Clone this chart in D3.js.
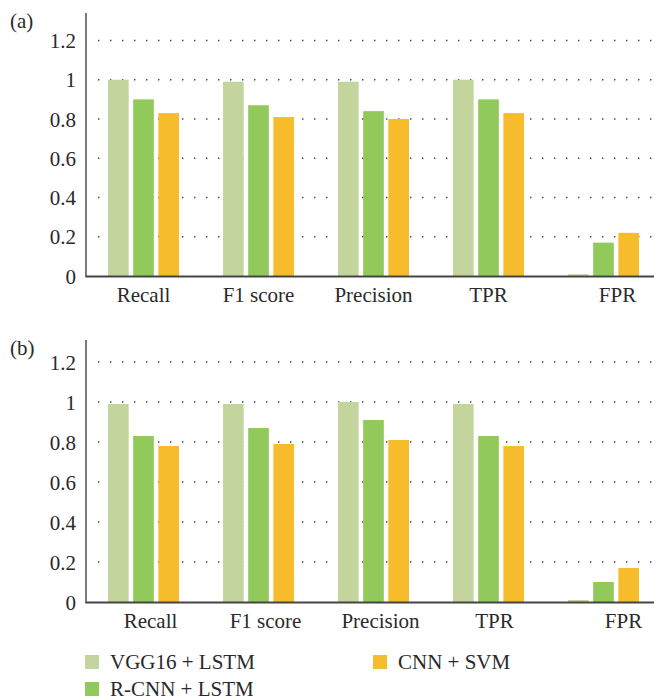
<!DOCTYPE html>
<html>
<head>
<meta charset="utf-8">
<script src="https://cdn.jsdelivr.net/npm/d3@7/dist/d3.min.js"></script>
</head>
<body style="margin:0;padding:0;background:#fff">
<svg id="chart" width="654" height="696"></svg>
<script>
// Metric categories along the x axis
const categories = ["Recall", "F1 score", "Precision", "TPR", "FPR"];
// Model names (legend order)
const series = ["VGG16 + LSTM", "R-CNN + LSTM", "CNN + SVM"];
const colors = ["#c3d59c", "#92c95b", "#f6bc2b"];
// y-axis tick values
const yTicks = [0, 0.2, 0.4, 0.6, 0.8, 1, 1.2];

// Panel (a) scores, one array per model, in category order
const panelA_vgg = [1.00, 0.99, 0.99, 1.00, 0.009];
const panelA_rcnn = [0.90, 0.87, 0.84, 0.90, 0.17];
const panelA_cnn = [0.83, 0.81, 0.80, 0.83, 0.22];

// Panel (b) scores
const panelB_vgg = [0.99, 0.99, 1.00, 0.99, 0.01];
const panelB_rcnn = [0.83, 0.87, 0.91, 0.83, 0.10];
const panelB_cnn = [0.78, 0.79, 0.81, 0.78, 0.17];

const FONT = "Liberation Serif";
const TEXT = "#2a2a2a";

const panels = [
  { tag: "(a)", values: [panelA_vgg, panelA_rcnn, panelA_cnn],
    top: 13, base: 276, yMax: 1.34, labelShift: [0, 0, 0, 0, 14] },
  { tag: "(b)", values: [panelB_vgg, panelB_rcnn, panelB_cnn],
    top: 340, base: 602, yMax: 1.31, labelShift: [7, 7, 7, 6, 20] }
];

const svg = d3.select("#chart");
const left = 86, right = 661, xEnd = 654;

const x0 = d3.scaleBand().domain(categories).range([left, right])
  .paddingInner(0.383).paddingOuter(0.1915);
const x1 = d3.scaleBand().domain(series).range([0, x0.bandwidth()])
  .paddingInner(0.18);

function serif(sel) {
  return sel.attr("font-family", FONT)
    .style("font-family", FONT)
    .attr("font-size", 21)
    .style("font-size", "21px")
    .attr("fill", TEXT);
}

panels.forEach(p => {
  const g = svg.append("g");
  const y = d3.scaleLinear().domain([0, p.yMax]).range([p.base, p.top]);

  // dotted horizontal grid
  g.append("g").selectAll("line")
    .data(yTicks.filter(t => t > 0))
    .join("line")
    .attr("x1", 98).attr("x2", xEnd)
    .attr("y1", d => y(d)).attr("y2", d => y(d))
    .attr("stroke", "#444")
    .attr("stroke-width", 1.6)
    .attr("stroke-dasharray", "1.4,10.6");

  // bars
  const rows = categories.map((c, i) => ({
    cat: c,
    vals: series.map((s, k) => ({ s, k, v: p.values[k][i] }))
  }));
  g.append("g").selectAll("g")
    .data(rows)
    .join("g")
    .attr("transform", d => `translate(${x0(d.cat)},0)`)
    .selectAll("rect")
    .data(d => d.vals)
    .join("rect")
    .attr("x", d => x1(d.s))
    .attr("width", x1.bandwidth())
    .attr("y", d => y(d.v))
    .attr("height", d => y(0) - y(d.v))
    .attr("fill", d => colors[d.k]);

  // y axis
  const yAxis = d3.axisLeft(y).tickValues(yTicks)
    .tickFormat(d3.format("~g")).tickSize(0).tickPadding(10);
  const ya = g.append("g").attr("transform", `translate(${left},0)`).call(yAxis);
  ya.attr("font-family", FONT).attr("font-size", 21);
  ya.select(".domain").remove();
  serif(ya.selectAll("text")).attr("dy", "0.34em");
  g.append("line")
    .attr("x1", left).attr("x2", left)
    .attr("y1", p.top).attr("y2", p.base)
    .attr("stroke", "#444").attr("stroke-width", 1.4);

  // x axis baseline and category labels
  g.append("line")
    .attr("x1", left - 0.7).attr("x2", xEnd)
    .attr("y1", p.base + 0.5).attr("y2", p.base + 0.5)
    .attr("stroke", "#444").attr("stroke-width", 2);
  serif(g.append("g").selectAll("text")
    .data(categories)
    .join("text"))
    .attr("x", (d, i) => x0(d) + x0.bandwidth() / 2 + p.labelShift[i])
    .attr("y", p.base + 26)
    .attr("text-anchor", "middle")
    .text(d => d);

  // panel tag
  serif(g.append("text"))
    .attr("x", 10).attr("y", p.top + 15)
    .text(p.tag);
});

// legend
const legendPos = [[85, 655], [85, 682], [373, 655]];
const lg = svg.append("g").selectAll("g")
  .data(series)
  .join("g")
  .attr("transform", (d, i) => `translate(${legendPos[i][0]},${legendPos[i][1]})`);
lg.append("rect").attr("width", 14).attr("height", 14)
  .attr("fill", (d, i) => colors[i]);
serif(lg.append("text")).attr("x", 25).attr("y", 14)
  .text(d => d);
</script>
</body>
</html>
